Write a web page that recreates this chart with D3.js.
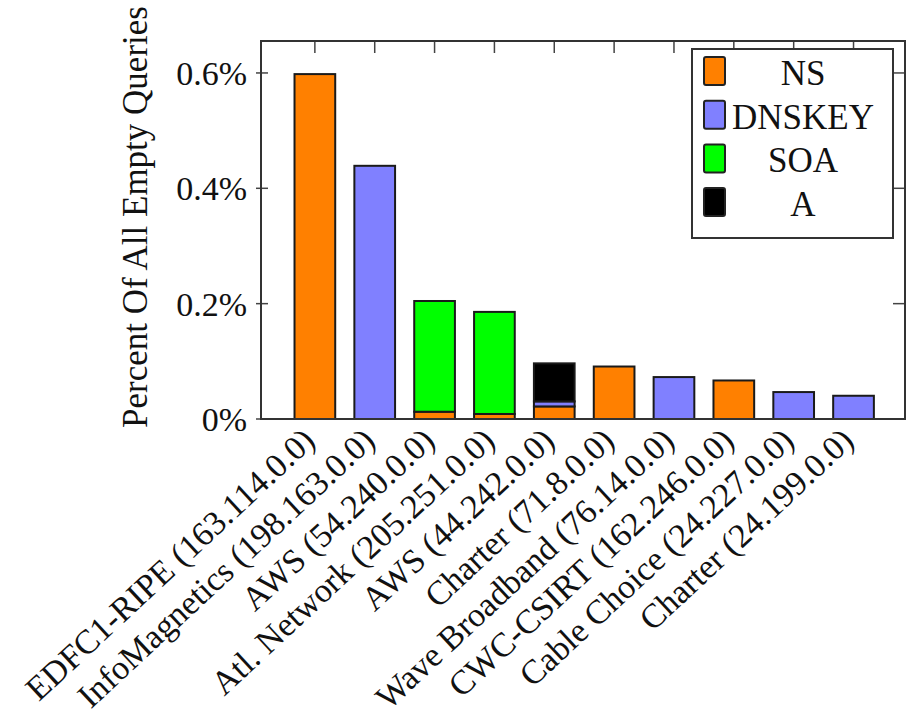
<!DOCTYPE html>
<html>
<head>
<meta charset="utf-8">
<script src="https://cdn.jsdelivr.net/npm/d3@7"></script>
<style>
  body { margin: 0; background: #fff; }
  text { font-family: "Liberation Serif", "Times New Roman", serif; fill: #111; }
</style>
</head>
<body>
<svg id="chart"></svg>
<script>
/**
 * Global variables.
 */
var categories = [
    "EDFC1-RIPE (163.114.0.0)",
    "InfoMagnetics (198.163.0.0)",
    "AWS (54.240.0.0)",
    "Atl. Network (205.251.0.0)",
    "AWS (44.242.0.0)",
    "Charter (71.8.0.0)",
    "Wave Broadband (76.14.0.0)",
    "CWC-CSIRT (162.246.0.0)",
    "Cable Choice (24.227.0.0)",
    "Charter (24.199.0.0)"
];
var seriesNames = ["NS", "DNSKEY", "SOA", "A"];
var seriesColors = ["#ff8000", "#8080ff", "#00ff00", "#000000"];

// values in percent of all empty queries
var nsValues     = [0.598, 0,     0.0126, 0.0087, 0.0218, 0.091, 0,      0.0668, 0,      0];
var dnskeyValues = [0,     0.439, 0,      0,      0.0087, 0,     0.0727, 0,      0.0467, 0.0403];
var soaValues    = [0,     0,     0.192,  0.177,  0,      0,     0,      0,      0,      0];
var aValues      = [0,     0,     0,      0,      0.066,  0,     0,      0,      0,      0];

var yTicks = [0, 0.2, 0.4, 0.6];
var yTickLabels = ["0%", "0.2%", "0.4%", "0.6%"];

var w = 908;
var h = 725;

/**
 * Build rows for d3.stack from the series arrays.
 */
var rows = categories.map(function(c, i) {
    return {
        name: c,
        index: i,
        NS: nsValues[i],
        DNSKEY: dnskeyValues[i],
        SOA: soaValues[i],
        A: aValues[i]
    };
});

var stacked = d3.stack().keys(seriesNames)(rows);

var svg = d3.select("#chart").attr("width", w).attr("height", h),
    margin = {top: 41, right: 3, bottom: 306, left: 261},
    width = w - margin.left - margin.right,
    height = h - margin.top - margin.bottom,
    g = svg.append("g")
        .attr("transform", "translate(" + margin.left + "," + margin.top + ")");

// index scale, bars sit on integer positions with padding on both sides
var x = d3.scaleLinear()
    .domain([-0.9, 9.86])
    .range([0, width]);

var y = d3.scaleLinear()
    .domain([0, 0.6554])
    .range([height, 0]);

var halfBar = 0.34;
var color = d3.scaleOrdinal().domain(seriesNames).range(seriesColors);

// Ticks (drawn first so the bars cover the bottom ones).
var tickLen = 12;
g.selectAll(".xtick-top")
    .data(categories)
    .enter()
    .append("line")
    .attr("x1", function(d, i) { return x(i); })
    .attr("x2", function(d, i) { return x(i); })
    .attr("y1", 0)
    .attr("y2", tickLen)
    .attr("stroke", "#444")
    .attr("stroke-width", 1.5);

g.selectAll(".ytick-left")
    .data(yTicks)
    .enter()
    .append("line")
    .attr("x1", -5)
    .attr("x2", 7)
    .attr("y1", function(d) { return y(d); })
    .attr("y2", function(d) { return y(d); })
    .attr("stroke", "#444")
    .attr("stroke-width", 1.5);

g.selectAll(".ytick-right")
    .data(yTicks)
    .enter()
    .append("line")
    .attr("x1", width - tickLen)
    .attr("x2", width)
    .attr("y1", function(d) { return y(d); })
    .attr("y2", function(d) { return y(d); })
    .attr("stroke", "#444")
    .attr("stroke-width", 1.5);

// Create the stacked bars.
var layer = g.selectAll(".layer")
    .data(stacked)
    .enter()
    .append("g")
    .attr("class", "layer")
    .attr("fill", function(d) { return color(d.key); });

layer.selectAll("rect")
    .data(function(d) {
        return d.filter(function(s) { return s[1] - s[0] > 0; });
    })
    .enter()
    .append("rect")
    .attr("x", function(d) { return x(d.data.index - halfBar); })
    .attr("width", x(halfBar) - x(-halfBar))
    .attr("y", function(d) { return y(d[1]); })
    .attr("height", function(d) { return y(d[0]) - y(d[1]); })
    .attr("stroke", "#1a1a1a")
    .attr("stroke-width", 2);

// Axis frame.
g.append("rect")
    .attr("x", 0)
    .attr("y", 0)
    .attr("width", width)
    .attr("height", height)
    .attr("fill", "none")
    .attr("stroke", "#333")
    .attr("stroke-width", 2);

// Y tick labels.
g.selectAll(".ylabel")
    .data(yTicks)
    .enter()
    .append("text")
    .attr("x", -14)
    .attr("y", function(d) { return y(d); })
    .attr("dy", "0.35em")
    .attr("text-anchor", "end")
    .style("font-size", "34px")
    .text(function(d, i) { return yTickLabels[i]; });

// Y axis title.
svg.append("text")
    .attr("transform", "translate(147,217) rotate(-90)")
    .attr("text-anchor", "middle")
    .style("font-size", "35px")
    .text("Percent Of All Empty Queries");

// Rotated category labels, ending just under each bar.
g.selectAll(".xlabel")
    .data(categories)
    .enter()
    .append("text")
    .attr("transform", function(d, i) {
        return "translate(" + (x(i) + 2) + "," + (height + 24) + ") rotate(-43)";
    })
    .attr("text-anchor", "end")
    .style("font-size", "34px")
    .text(function(d) { return d; });

// Legend.
var legend = svg.append("g").attr("transform", "translate(692,49)");
legend.append("rect")
    .attr("width", 201)
    .attr("height", 189)
    .attr("fill", "#fff")
    .attr("stroke", "#333")
    .attr("stroke-width", 2);

var item = legend.selectAll(".item")
    .data(seriesNames)
    .enter()
    .append("g")
    .attr("transform", function(d, i) { return "translate(0," + (i * 43.7) + ")"; });

item.append("rect")
    .attr("x", 12)
    .attr("y", 8)
    .attr("width", 21)
    .attr("height", 28)
    .attr("rx", 2)
    .attr("fill", function(d) { return color(d); })
    .attr("stroke", "#222")
    .attr("stroke-width", 2);

item.append("text")
    .attr("x", 111)
    .attr("y", 36)
    .attr("text-anchor", "middle")
    .style("font-size", "35px")
    .text(function(d) { return d; });
</script>
</body>
</html>
